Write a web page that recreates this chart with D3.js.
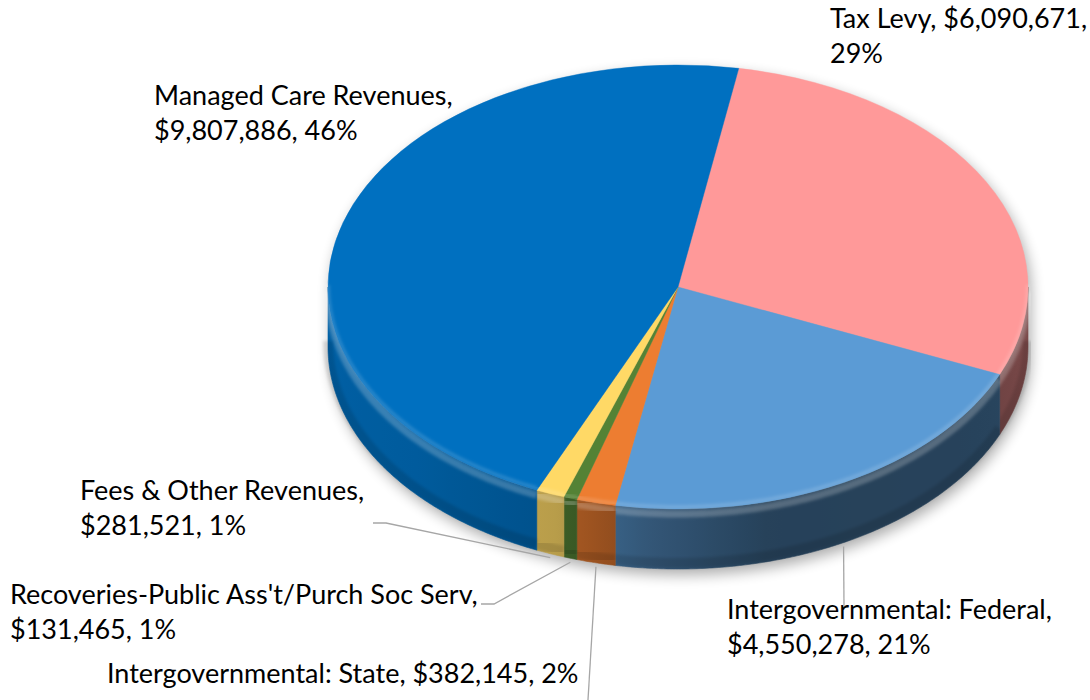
<!DOCTYPE html>
<html>
<head>
<meta charset="utf-8">
<script src="https://cdn.jsdelivr.net/npm/d3@7"></script>
<style>
  html, body { margin: 0; padding: 0; background: #fff; }
  svg { display: block; }
</style>
</head>
<body>
<svg id="chart"></svg>
<script>
// slice order clockwise, starting just right of 12 o'clock
const categories = [
  'Tax Levy',
  'Intergovernmental: Federal',
  'Intergovernmental: State',
  "Recoveries-Public Ass't/Purch Soc Serv",
  'Fees & Other Revenues',
  'Managed Care Revenues',
];
const amounts = [6090671, 4550278, 382145, 131465, 281521, 9807886];
const colors = ['#FF9999', '#5B9BD5', '#ED7D31', '#548235', '#FFD966', '#0070C0'];

const width = 1090, height = 700;
const cx = 678, cy = 287, rx = 350, ry = 222, depth = 60;
const startDeg = 10;

// label layout: first baseline, where the line breaks, leader elbow points
const labelLayout = [
  { x: 830, y: 28, split: 'amount', leader: null },
  { x: 727, y: 619, split: 'name', leader: [[844, 606]] },
  { x: 107, y: 683, split: 'none', leader: [[588, 700]] },
  { x: 10, y: 604, split: 'name', leader: [[481, 604], [494, 604]] },
  { x: 80, y: 500, split: 'name', leader: [[373, 523], [386, 523]] },
  { x: 154, y: 105, split: 'name', leader: null },
];

const svg = d3.select('#chart')
  .attr('width', width)
  .attr('height', height)
  .attr('viewBox', `0 0 ${width} ${height}`);

svg.append('rect').attr('width', width).attr('height', height).attr('fill', '#fff');

const defs = svg.append('defs');

const shadow = defs.append('filter').attr('id', 'shadow')
  .attr('x', '-20%').attr('y', '-20%').attr('width', '140%').attr('height', '140%');
shadow.append('feGaussianBlur').attr('stdDeviation', 7);

const soft = defs.append('filter').attr('id', 'soft')
  .attr('x', '-10%').attr('y', '-10%').attr('width', '120%').attr('height', '120%');
soft.append('feGaussianBlur').attr('stdDeviation', 1.6);

const total = d3.sum(amounts);
const data = categories.map((c, i) => ({ name: c, value: amounts[i], color: colors[i] }));

const pie = d3.pie()
  .value(d => d.value)
  .sort(null)
  .startAngle(startDeg * Math.PI / 180)
  .endAngle(startDeg * Math.PI / 180 + 2 * Math.PI);

const arcs = pie(data);

function proj(a, dy = 0) {
  return [cx + rx * Math.sin(a), cy - ry * Math.cos(a) + dy];
}

function sample(a0, a1, dy = 0) {
  const n = Math.max(2, Math.ceil(Math.abs(a1 - a0) / (Math.PI / 360)));
  return d3.range(n + 1).map(k => proj(a0 + (a1 - a0) * k / n, dy));
}

// front half of the pie is where the side wall shows
function frontPart(a0, a1) {
  const out = [];
  [0, 2 * Math.PI].forEach(off => {
    const s = Math.max(a0, Math.PI / 2 + off);
    const e = Math.min(a1, 1.5 * Math.PI + off);
    if (e > s) out.push([s, e]);
  });
  return out;
}

// side brightness by angle (light comes from the left)
const shade = d3.scaleLinear()
  .domain([90, 120, 165, 185, 200, 230, 270])
  .range([0.48, 0.43, 0.42, 0.56, 0.72, 0.82, 0.86])
  .clamp(true);

const line = d3.line();

// shadow under the disc
const shadowG = svg.append('g').attr('filter', 'url(#shadow)').attr('opacity', 0.32);
shadowG.append('path')
  .attr('d', line(sample(Math.PI / 2, 1.5 * Math.PI, depth + 6)
    .concat(sample(1.5 * Math.PI, 2.5 * Math.PI, 6))) + 'Z')
  .attr('transform', 'translate(3,0)')
  .attr('fill', '#000');

// side walls
const sides = svg.append('g');
arcs.forEach((d, i) => {
  const grad = defs.append('linearGradient')
    .attr('id', `side-${i}`)
    .attr('gradientUnits', 'userSpaceOnUse')
    .attr('x1', cx + rx).attr('x2', cx - rx)
    .attr('y1', 0).attr('y2', 0);
  d3.range(0, 1.0001, 0.025).forEach(t => {
    const x = cx + rx - 2 * rx * t;
    const a = Math.PI - Math.asin(Math.max(-1, Math.min(1, (x - cx) / rx)));
    grad.append('stop')
      .attr('offset', t)
      .attr('stop-color', d3.interpolateRgb('#000', d.data.color)(shade(a * 180 / Math.PI)));
  });

  frontPart(d.startAngle, d.endAngle).forEach(([s, e]) => {
    const pts = sample(s, e).concat(sample(e, s, depth));
    sides.append('path')
      .attr('d', line(pts) + 'Z')
      .attr('fill', `url(#side-${i})`)
      .attr('stroke', `url(#side-${i})`)
      .attr('stroke-width', 0.6);
    // bevel highlight just under the rim
    sides.append('path')
      .attr('d', line(sample(s, e, 5)))
      .attr('fill', 'none')
      .attr('stroke', '#fff')
      .attr('stroke-opacity', 0.22)
      .attr('stroke-width', 7)
      .attr('filter', 'url(#soft)');
    // darker toward the bottom edge
    sides.append('path')
      .attr('d', line(sample(s, e, depth - 6)))
      .attr('fill', 'none')
      .attr('stroke', '#000')
      .attr('stroke-opacity', 0.12)
      .attr('stroke-width', 10)
      .attr('filter', 'url(#soft)');
  });
});

// top faces
const arc = d3.arc().innerRadius(0).outerRadius(rx);
const topFace = svg.append('g')
  .attr('transform', `translate(${cx},${cy}) scale(1,${ry / rx})`);
topFace.selectAll('path.slice')
  .data(arcs)
  .join('path')
  .attr('class', 'slice')
  .attr('d', arc)
  .attr('fill', d => d.data.color)
  .attr('stroke', d => d.data.color)
  .attr('stroke-width', 0.5);

// soft rounding on the front rim of the top face
const rim = svg.append('g');
arcs.forEach(d => {
  frontPart(d.startAngle, d.endAngle).forEach(([s, e]) => {
    rim.append('path')
      .attr('d', line(sample(s, e, -2)))
      .attr('fill', 'none')
      .attr('stroke', '#fff')
      .attr('stroke-opacity', 0.15)
      .attr('stroke-width', 4)
      .attr('filter', 'url(#soft)');
  });
});

// labels
const fmtMoney = v => '$' + d3.format(',')(v);
const fmtPct = d3.format('.0%');
const fontSize = 27, lineH = 34.5;

const labels = svg.append('g')
  .attr('font-family', 'Lato, "Open Sans", sans-serif')
  .attr('font-size', fontSize)
  .attr('fill', '#000');

arcs.forEach((d, i) => {
  const L = labelLayout[i];
  const name = d.data.name, money = fmtMoney(d.data.value), pct = fmtPct(d.data.value / total);
  let lines;
  if (L.split === 'amount') lines = [`${name}, ${money},`, pct];
  else if (L.split === 'name') lines = [`${name},`, `${money}, ${pct}`];
  else lines = [`${name}, ${money}, ${pct}`];

  const t = labels.append('text').attr('x', L.x).attr('y', L.y);
  lines.forEach((s, k) => {
    t.append('tspan').attr('x', L.x).attr('y', L.y + k * lineH).text(s);
  });

  if (L.leader) {
    const mid = (d.startAngle + d.endAngle) / 2;
    const end = proj(mid, depth + 4);
    svg.append('path')
      .attr('d', line(L.leader.concat([end])))
      .attr('fill', 'none')
      .attr('stroke', '#A6A6A6')
      .attr('stroke-width', 1.3);
  }
});
</script>
</body>
</html>
